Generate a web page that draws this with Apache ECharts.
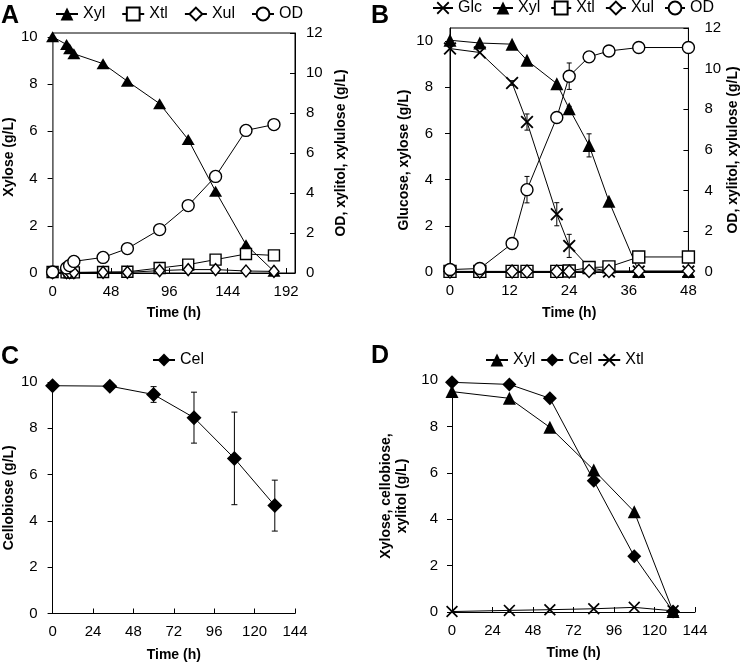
<!DOCTYPE html>
<html><head><meta charset="utf-8">
<script src="https://cdn.jsdelivr.net/npm/echarts@6/dist/echarts.min.js"></script>
<style>html,body{margin:0;padding:0;background:#fff}#c{width:742px;height:664px}</style>
</head><body><div id="c"></div>
<script>
const FONT = '"Liberation Sans", Arial, sans-serif';

// ---- Panel A ----
const A_time = [0, 11.5, 14, 17.5, 41.5, 61.5, 88, 111.5, 134, 159, 182];
const A_xyl  = [10.0, 9.67, 9.49, 9.28, 8.86, 8.12, 7.17, 5.65, 3.46, 1.2, 0.07];
const A_xtl  = [0.05, 0.03, 0.03, 0.03, 0.05, 0.06, 0.25, 0.42, 0.67, 0.95, 0.88];
const A_xul  = [0.02, 0.02, 0.02, 0.02, 0.03, 0.03, 0.12, 0.17, 0.17, 0.1, 0.08];
const A_od   = [0.05, 0.25, 0.37, 0.58, 0.78, 1.22, 2.17, 3.37, 4.83, 7.13, 7.42];

// ---- Panel B ----
const B_time = [0, 6, 12.5, 15.5, 21.5, 24, 28, 32, 38, 48];
const B_glc  = [9.67, 9.5, 8.18, 6.49, 2.5, 1.13, 0.2, 0.02, 0.02, 0.02];
const B_xyl  = [10.03, 9.91, 9.86, 9.16, 8.15, 7.07, 5.48, 3.06, 0.02, 0.02];
const B_xtl  = [0.03, 0.03, 0.03, 0.03, 0.03, 0.05, 0.22, 0.25, 0.74, 0.74];
const B_xul  = [0.02, 0.02, 0.02, 0.02, 0.02, 0.02, 0.05, 0.05, 0.05, 0.05];
const B_od   = [0.12, 0.17, 1.4, 4.05, 7.6, 9.63, 10.58, 10.87, 11.04, 11.04];
const B_glc_err = [0, 0, 0.1, 0.35, 0.5, 0.5, 0.15, 0, 0, 0];
const B_xyl_err = [0, 0, 0, 0, 0, 0.1, 0.5, 0, 0, 0];
const B_od_err  = [0, 0, 0, 0.65, 0, 0.65, 0, 0, 0, 0];

// ---- Panel C ----
const C_time = [0, 34, 60, 84, 108, 132];
const C_cel  = [9.84, 9.82, 9.46, 8.46, 6.7, 4.66];
const C_err  = [0.1, 0, 0.34, 1.1, 2.0, 1.1];

// ---- Panel D ----
const D_time = [0, 34, 58, 84, 108, 131];
const D_xyl  = [9.5, 9.21, 7.96, 6.12, 4.32, 0.02];
const D_cel  = [9.9, 9.81, 9.21, 5.66, 2.4, 0.02];
const D_xtl  = [0.02, 0.07, 0.1, 0.14, 0.2, 0.05];

// tick labels
const A_xticks = [0, 48, 96, 144, 192];
const A_yticks = [0, 2, 4, 6, 8, 10];
const R_yticks = [0, 2, 4, 6, 8, 10, 12];
const B_xticks = [0, 12, 24, 36, 48];
const CD_xticks = [0, 24, 48, 72, 96, 120, 144];

const X_PATH = 'path://M0,1L1,0L5,4L9,0L10,1L6,5L10,9L9,10L5,6L1,10L0,9L4,5Z';

function pts(t, v) { return t.map((x, i) => [x, v[i]]); }
function ln(name, xi, yi, t, v, symbol, size, fill, z) {
  return {
    name, type: 'line', xAxisIndex: xi, yAxisIndex: yi, data: pts(t, v),
    symbol, symbolSize: size, showSymbol: true, showAllSymbol: true,
    lineStyle: { color: '#000', width: 1 },
    itemStyle: { color: fill, borderColor: '#000', borderWidth: fill === '#fff' ? 1.4 : 0 },
    z: z || 3, emphasis: { disabled: true }, silent: true
  };
}
function errs(xi, yi, t, v, e, cap) {
  const data = t.map((x, i) => [x, v[i], e[i]]).filter(d => d[2] > 0);
  return {
    type: 'custom', xAxisIndex: xi, yAxisIndex: yi, data, silent: true, z: 2,
    renderItem: (p, api) => {
      const x = api.value(0), y = api.value(1), ee = api.value(2);
      const a = api.coord([x, y + ee]), b = api.coord([x, y - ee]);
      const st = { stroke: '#000', lineWidth: 1 };
      return { type: 'group', children: [
        { type: 'line', shape: { x1: a[0], y1: a[1], x2: b[0], y2: b[1] }, style: st },
        { type: 'line', shape: { x1: a[0] - cap, y1: a[1], x2: a[0] + cap, y2: a[1] }, style: st },
        { type: 'line', shape: { x1: b[0] - cap, y1: b[1], x2: b[0] + cap, y2: b[1] }, style: st }
      ] };
    }
  };
}

const lab = { color: '#000', fontSize: 15, fontFamily: FONT };
const nameSt = { color: '#000', fontSize: 14, fontWeight: 'bold', fontFamily: FONT };

function xAx(gi, max, ticks, gap) {
  return {
    type: 'value', gridIndex: gi, min: 0, max,
    axisLine: { show: true, lineStyle: { color: '#000', width: 1 } },
    axisTick: { show: true, inside: true, length: 5, lineStyle: { color: '#000' }, customValues: ticks },
    axisLabel: { ...lab, margin: 11, customValues: ticks },
    splitLine: { show: false },
    name: 'Time (h)', nameLocation: 'middle', nameGap: gap, nameTextStyle: nameSt
  };
}
function yAx(gi, max, ticks, pos, name, gap, margin, color, width, pad) {
  return {
    type: 'value', gridIndex: gi, min: 0, max, position: pos,
    axisLine: { show: true, onZero: false, lineStyle: { color: color || '#000', width: width || 1 } },
    axisTick: { show: true, inside: pos === 'right', length: 5, lineStyle: { color: '#000' }, customValues: ticks },
    axisLabel: { ...lab, margin, customValues: ticks },
    splitLine: { show: false },
    name, nameLocation: 'middle', nameRotate: 90, nameGap: gap,
    nameTextStyle: { ...nameSt, lineHeight: 16, padding: pad || 0 }
  };
}

const legBase = {
  orient: 'horizontal', padding: 0, itemWidth: 22, itemHeight: 16, selectedMode: false,
  textStyle: { color: '#000', fontSize: 16, fontFamily: FONT },
  formatter: n => n.split(':')[1]
};

const option = {
  animation: false,
  backgroundColor: '#fff',
  grid: [
    { left: 49, top: 33, width: 246, height: 240, show: true, borderColor: '#000', borderWidth: 1, backgroundColor: 'transparent' },
    { left: 450, top: 28, width: 245, height: 244, show: true, borderColor: '#000', borderWidth: 1, backgroundColor: 'transparent' },
    { left: 49, top: 382, width: 246, height: 231.5 },
    { left: 452, top: 380, width: 243, height: 232 }
  ],
  xAxis: [
    xAx(0, 199.3, A_xticks, 33),
    xAx(1, 48, B_xticks, 34),
    xAx(2, 144, CD_xticks, 35),
    xAx(3, 144, CD_xticks, 34)
  ],
  yAxis: [
    yAx(0, 10.16, A_yticks, 'left', 'Xylose (g/L)', 32, 15, '#777', 1.6, [0, 8, 0, 0]),
    yAx(0, 12, R_yticks, 'right', 'OD, xylitol, xylulose (g/L)', 38, 11),
    yAx(1, 10.56, A_yticks, 'left', 'Glucose, xylose (g/L)', 37, 17, null, null, [0, 20, 0, 0]),
    yAx(1, 12, R_yticks, 'right', 'OD, xylitol, xylulose (g/L)', 32, 16),
    yAx(2, 10, A_yticks, 'left', 'Cellobiose (g/L)', 35, 15),
    yAx(3, 10, A_yticks, 'left', 'Xylose, cellobiose,\nxylitol (g/L)', 42, 14)
  ],
  legend: [
    { ...legBase, data: ['A:Xyl', 'A:Xtl', 'A:Xul', 'A:OD'], left: 55, top: 6, itemGap: 16 },
    { ...legBase, data: ['B:Glc', 'B:Xyl', 'B:Xtl', 'B:Xul', 'B:OD'], left: 432, top: 0, itemGap: 10, itemWidth: 20 },
    { ...legBase, data: ['C:Cel'], left: 152, top: 352, itemGap: 10 },
    { ...legBase, data: ['D:Xyl', 'D:Cel', 'D:Xtl'], left: 485, top: 352, itemGap: 5 }
  ],
  graphic: [
    { type: 'text', left: 1, top: 4, style: { text: 'A', font: 'bold 25px "Liberation Sans", Arial', fill: '#000' } },
    { type: 'text', left: 371, top: 4, style: { text: 'B', font: 'bold 25px "Liberation Sans", Arial', fill: '#000' } },
    { type: 'text', left: 1, top: 345, style: { text: 'C', font: 'bold 25px "Liberation Sans", Arial', fill: '#000' } },
    { type: 'text', left: 371, top: 344, style: { text: 'D', font: 'bold 25px "Liberation Sans", Arial', fill: '#000' } }
  ],
  series: [
    // A
    ln('A:Xyl', 0, 0, A_time, A_xyl, 'triangle', [13, 11], '#000', 3),
    ln('A:Xtl', 0, 1, A_time, A_xtl, 'rect', 11, '#fff', 4),
    ln('A:Xul', 0, 1, A_time, A_xul, 'diamond', [10, 12], '#fff', 5),
    ln('A:OD', 0, 1, A_time, A_od, 'circle', 12, '#fff', 6),
    // B
    errs(1, 2, B_time, B_glc, B_glc_err, 2.5),
    errs(1, 2, B_time, B_xyl, B_xyl_err, 2.5),
    errs(1, 3, B_time, B_od, B_od_err, 2.5),
    ln('B:Glc', 1, 2, B_time, B_glc, X_PATH, 13, '#000', 3),
    ln('B:Xyl', 1, 2, B_time, B_xyl, 'triangle', [13, 13], '#000', 4),
    ln('B:Xtl', 1, 3, B_time, B_xtl, 'rect', 12, '#fff', 5),
    ln('B:Xul', 1, 3, B_time, B_xul, 'diamond', [12, 13], '#fff', 6),
    ln('B:OD', 1, 3, B_time, B_od, 'circle', 12, '#fff', 7),
    // C
    errs(2, 4, C_time, C_cel, C_err, 3),
    ln('C:Cel', 2, 4, C_time, C_cel, 'diamond', [15, 15], '#000', 3),
    // D
    ln('D:Xyl', 3, 5, D_time, D_xyl, 'triangle', [13, 13], '#000', 3),
    ln('D:Cel', 3, 5, D_time, D_cel, 'diamond', [14, 14], '#000', 4),
    ln('D:Xtl', 3, 5, D_time, D_xtl, X_PATH, 12, '#000', 5)
  ]
};

const chart = echarts.init(document.getElementById('c'), null, { renderer: 'canvas' });
chart.setOption(option);
</script>
</body></html>
